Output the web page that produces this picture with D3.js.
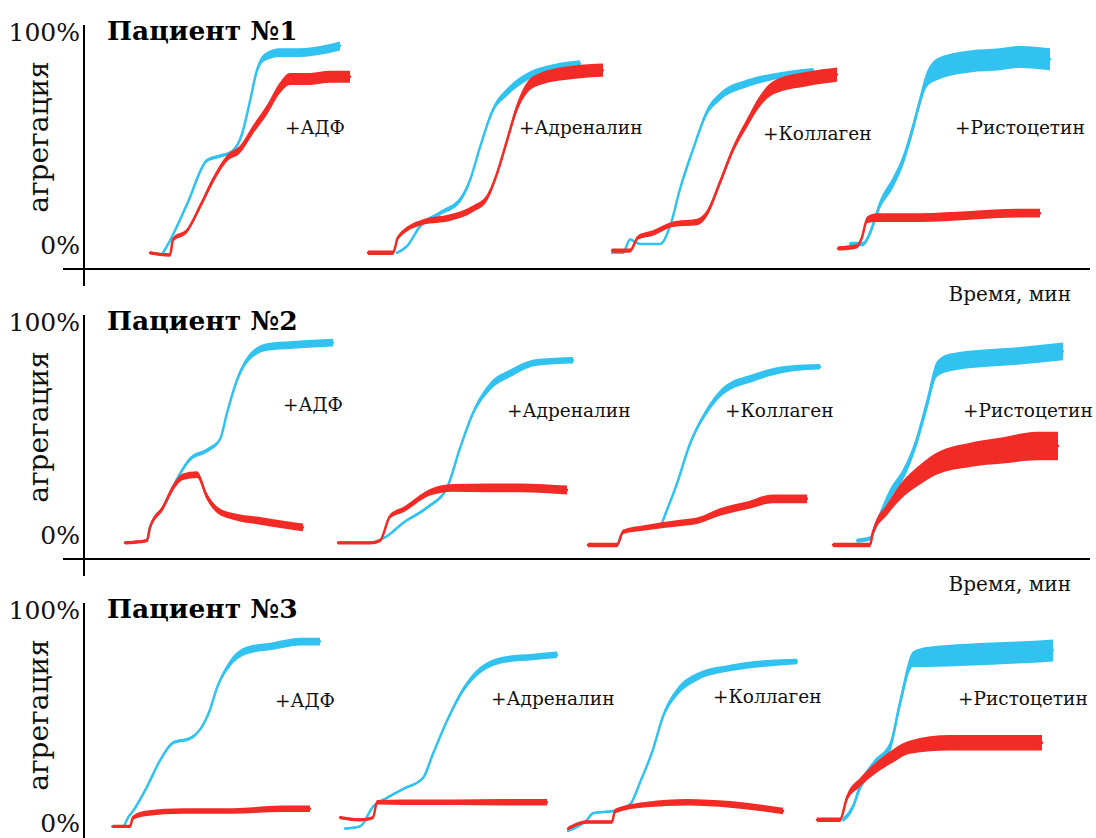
<!DOCTYPE html>
<head>
<meta charset="utf-8">
<title>Агрегация тромбоцитов</title>
<script type="text/javascript" src="https://d3js.org/d3.v7.min.js"></script>
<style>
body { margin: 0; background: #fff; }

/* axes */
.axis-line {
stroke: #000;
stroke-width: 2;
}
.tick-label text {
fill: #111;
font-family: "DejaVu Serif", serif;
font-size: 25px;
}

/* texts */
.title {
fill: #000;
font-family: "DejaVu Serif", serif;
font-weight: bold;
font-size: 26.5px;
}
.ylabel {
fill: #111;
font-family: "DejaVu Serif", serif;
font-size: 28px;
}
.xlabel {
fill: #111;
font-family: "DejaVu Serif", serif;
font-size: 20px;
}
.reagent {
fill: #111;
font-family: "DejaVu Serif", serif;
font-size: 18.5px;
}
</style>
</head>
<body>
<div id="container"></div>
<script>
//---------------------------DATA-------------------------------//
const patients = ["Пациент №1", "Пациент №2", "Пациент №3"];
const reagents = ["+АДФ", "+Адреналин", "+Коллаген", "+Ристоцетин"];
const yTicks = [0, 100];
const xTitle = "Время, мин";
const yTitle = "агрегация";

// each point: [time, s; aggregation, %; oscillation amplitude, %]
// blue = control, red = patient; order of curves follows reagents
const control1 = [
  [[15,1,1],[19,4,1],[39,23,1.2],[59,43,1.5],[72,45,1.5],[84,47,1.5],[94,55,1.5],[102,70,2],[109,84,3],[117,90,3.5],[132,92,4],[152,92,4],[172,93,4],[192,95,4]],
  [[30,1,1],[40,4,1],[53,13,1.5],[73,19,2],[93,25,2.5],[103,34,2],[113,49,1.5],[126,66,2.5],[140,74,3.5],[160,81,3.5],[186,85,3.5],[213,87,3]],
  [[2,1,1],[13,1,1],[20,7,1],[30,5,1],[50,5,1],[60,13,1],[70,30,1],[83,48,1.5],[97,65,3],[110,72,3.5],[137,78,3.5],[163,81,3],[203,84,2]],
  [[12,5,2],[25,5,2],[32,10,3],[42,23,4],[55,33,5],[65,43,5],[75,58,5],[82,70,5],[89,80,7],[102,85,10],[132,88,10],[162,89,10],[182,90,10],[212,89,10]]
];
const patient1 = [
  [[2,1,1.5],[22,0,1.5],[25,7,2],[39,11,2],[52,22,2.5],[65,34,3],[79,44,3],[92,48,3.5],[105,57,4],[119,66,4.5],[132,76,5],[142,80,5.5],[162,80,5.5],[182,81,5.5],[202,81,5.5]],
  [[1,1,2],[26,1,2],[31,8,2],[56,15,2.5],[83,17,3],[106,21,3],[120,26,3],[130,37,2.5],[140,52,3],[150,67,4],[160,76,5],[173,80,5.5],[206,83,6],[236,84,6]],
  [[2,2,2],[20,2,2],[28,8,2],[43,10,2.5],[63,14,2.5],[87,15,3],[97,19,3],[110,33,3],[123,48,3],[137,60,4],[150,70,5],[163,76,6],[197,80,6.5],[227,82,6.5]],
  [[0,3,2],[19,4,2],[24,8,2],[29,16,3],[39,17,4],[82,17,4],[132,18,4],[182,19,4],[202,19,4]]
];
const control2 = [
  [[0,1,1],[22,2,1],[25,8,1],[38,17,1],[52,30,1.5],[65,39,2],[82,43,2],[95,48,1.5],[102,60,1.5],[112,75,2.5],[122,84,3],[142,90,3.5],[168,91,3.5],[208,92,3.5]],
  [[35,1,1],[49,4,1],[65,10,1],[89,17,1.5],[109,26,1.5],[122,44,1.5],[135,60,2.5],[152,72,3.5],[172,78,3.5],[199,83,3],[235,84,3]],
  [[0,0,1],[29,0,1],[35,6,1],[59,8,1],[72,9,1],[79,16,1],[89,28,1.5],[102,46,2],[119,61,3],[135,70,3.5],[165,76,3.5],[199,80,3],[232,81,2.5]],
  [[25,2,2],[38,3,2],[45,10,4],[58,23,5],[71,32,5],[83,45,5],[95,64,6],[105,80,7],[118,83,8],[155,85,8],[188,86,8],[231,88,8]]
];
const patient2 = [
  [[0,1,1.5],[22,2,1.5],[25,8,2],[38,17,2.5],[48,26,3],[58,31,3],[72,32,3],[82,22,3],[92,16,3],[108,13,3],[135,11,3.5],[162,9,3.5],[178,8,3.5]],
  [[0,1,1.5],[32,1,1.5],[42,2,1.5],[52,13,2],[65,16,2.5],[92,24,3],[115,26,3.5],[149,26,4],[182,26,4],[229,25,4]],
  [[0,0,2],[29,0,2],[35,6,2],[59,8,2.5],[92,10,3],[109,11,3],[132,15,3.5],[159,18,3.5],[185,21,4],[219,21,4]],
  [[1,0,2],[38,0,2],[41,6,3],[55,16,5],[68,24,7],[88,32,9],[105,37,10],[138,41,11],[171,43,12],[205,45,13],[226,45,13]]
];
const control3 = [
  [[0,3,1],[11,3,1],[16,7,1],[21,10,1],[35,21,1],[48,33,1.2],[61,41,1.5],[78,43,1.5],[88,47,1.2],[98,56,1.2],[105,66,1.5],[118,77,3],[135,83,3.5],[161,85,3.5],[188,87,3.5],[208,87,3.5]],
  [[5,2,1],[20,3,1],[33,12,1],[47,16,1],[63,20,1.2],[83,25,1.2],[93,36,1.2],[107,51,1.5],[123,65,2.5],[140,74,3],[167,79,3],[193,80,3],[217,81,3]],
  [[0,1,1],[19,6,1],[25,9,1],[45,10,1],[62,13,1],[72,23,1.2],[85,38,1.5],[95,53,2.5],[109,64,3.5],[129,71,3.5],[162,75,3],[195,77,3],[229,78,2.5]],
  [[28,6,2],[38,12,3],[45,21,4],[58,30,5],[75,39,5],[85,59,5],[98,79,7],[112,80,9],[152,81,10],[202,82,10],[238,83,10]]
];
const patient3 = [
  [[1,3,1.5],[18,3,1.5],[21,7,2],[35,9,2.5],[71,10,2.5],[121,10,2.5],[171,11,3],[198,11,3]],
  [[0,7,1.5],[20,6,1.5],[33,7,1.5],[37,14,2],[63,14,2.5],[113,14,2.5],[163,14,3],[207,14,3]],
  [[0,2,1.5],[19,5,1.5],[44,5,1.5],[47,10,2],[79,13,2.5],[119,14,3],[162,13,3],[215,10,3]],
  [[2,6,2],[25,6,2],[32,16,3],[45,23,4],[62,30,5],[78,35,6],[95,39,6],[135,41,7],[185,41,7],[227,41,7]]
];

//--------------------------LAYOUT------------------------------//
const width = 1096;
const height = 838;
const panelTop = [0, 290, 578];
const axisX = 84;
const subLeft = [[148, 367, 610, 838], [125, 338, 588, 832], [112, 340, 568, 815]];
// reagent label anchor in each sub chart: [time, %]
const labelAt = [
  [[137, 58], [152, 58], [153, 55], [117, 58]],
  [[158, 64], [169, 61], [137, 61], [131, 61]],
  [[163, 60], [151, 61], [145, 62], [143, 61]]
];
const blue = "#31c2f0";
const red = "#f32b26";

const controls = [control1, control2, control3];
const patientsData = [patient1, patient2, patient3];

const svg = d3.select("div#container").append("svg")
    .attr("width", width)
    .attr("height", height);

svg.append("rect")
    .attr("width", width)
    .attr("height", height)
    .attr("fill", "#fff");

const yScale = d3.scaleLinear().domain([0, 100]).range([255, 35]);

patients.forEach(function(name, i) {
    const g = svg.append("g")
        .attr("transform", "translate(0," + panelTop[i] + ")");

    //--------------------------AXES--------------------------//
    g.append("line")
        .attr("class", "axis-line")
        .attr("x1", axisX).attr("x2", axisX)
        .attr("y1", 25).attr("y2", 286);

    g.append("line")
        .attr("class", "axis-line")
        .attr("x1", 63).attr("x2", 1090)
        .attr("y1", 269).attr("y2", 269);

    const yaxis = d3.axisLeft(yScale)
        .tickValues(yTicks)
        .tickSize(0)
        .tickPadding(4)
        .tickFormat(function(d) { return d + "%"; });

    const ag = g.append("g")
        .attr("class", "tick-label")
        .attr("transform", "translate(" + axisX + ",0)")
        .call(yaxis);
    ag.select(".domain").remove();
    ag.attr("font-family", null).attr("font-size", null);
    // labels sit slightly above their levels
    ag.selectAll(".tick text")
        .attr("dy", function(d) { return d === 0 ? "-0.08em" : "0.22em"; });

    g.append("text")
        .attr("class", "ylabel")
        .attr("transform", "translate(38,137) rotate(-90)")
        .attr("text-anchor", "middle")
        .attr("dy", "0.35em")
        .text(yTitle);

    g.append("text")
        .attr("class", "title")
        .attr("x", 107)
        .attr("y", 31)
        .attr("dy", "0.35em")
        .text(name);

    if (panelTop[i] + 300 < height) {
        g.append("text")
            .attr("class", "xlabel")
            .attr("x", 1071)
            .attr("y", 294)
            .attr("dy", "0.35em")
            .attr("text-anchor", "end")
            .text(xTitle);
    }

    //-------------------------CURVES-------------------------//
    reagents.forEach(function(reagent, j) {
        const xScale = d3.scaleLinear()
            .domain([0, 210])
            .range([subLeft[i][j], subLeft[i][j] + 210]);

        const band = d3.area()
            .x(function(d) { return xScale(d[0]); })
            .y0(function(d) { return yScale(d[1] - d[2] / 2); })
            .y1(function(d) { return yScale(d[1] + d[2] / 2); })
            .curve(d3.curveMonotoneX);

        const line = d3.line()
            .x(function(d) { return xScale(d[0]); })
            .y(function(d) { return yScale(d[1]); })
            .curve(d3.curveMonotoneX);

        [[controls[i][j], blue], [patientsData[i][j], red]].forEach(function(s) {
            g.append("path")
                .attr("d", band(s[0]))
                .attr("fill", s[1]);
            g.append("path")
                .attr("d", line(s[0]))
                .attr("fill", "none")
                .attr("stroke", s[1])
                .attr("stroke-width", 2.5)
                .attr("stroke-linejoin", "round")
                .attr("stroke-linecap", "round");
        });

        g.append("text")
            .attr("class", "reagent")
            .attr("x", xScale(labelAt[i][j][0]))
            .attr("y", yScale(labelAt[i][j][1]))
            .attr("dy", "0.35em")
            .text(reagent);
    });
});
</script>
</body>
